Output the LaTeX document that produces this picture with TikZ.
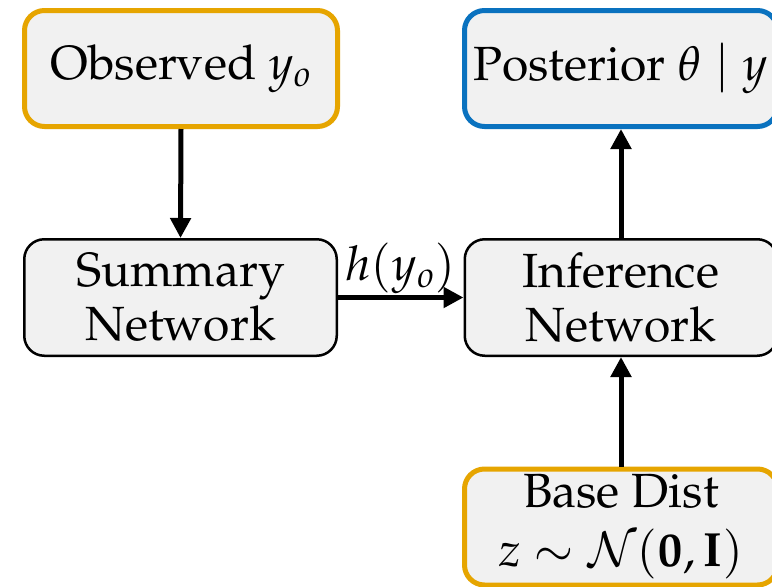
\documentclass[tikz,border=0pt]{standalone}
\usepackage[T1]{fontenc}
\usepackage{mathpazo}
\usetikzlibrary{arrows.meta}
\definecolor{boxorange}{HTML}{E6A500}
\definecolor{boxblue}{HTML}{0A72BF}
\definecolor{boxfill}{HTML}{F1F1F1}
\tikzset{
  bx/.style={rectangle, rounded corners=20pt, fill=boxfill, align=center,
    minimum width=313pt, minimum height=116pt, inner sep=0pt,
    font=\fontsize{48}{54}\selectfont},
  obox/.style={bx, draw=boxorange, line width=5pt},
  bbox/.style={bx, draw=boxblue, line width=5pt},
  kbox/.style={bx, draw=black, line width=2.5pt, minimum width=312.5pt, minimum height=116.5pt},
  arr/.style={line width=5pt, -{Triangle[length=20pt,width=20pt]}}
}
\begin{document}
\begin{tikzpicture}[x=1pt,y=-1pt]
\useasboundingbox (0,0) rectangle (772,587);
\fill[white] (0,0) rectangle (772,587);
\clip (0,0) rectangle (772,587);
\node[obox] (obs) at (181,68.5) {Observed $y_o$};
\node[bbox] (post) at (621,68.5) {Posterior $\theta \mid y$};
\node[kbox] (sum) at (180.5,297.5) {Summary\\Network};
\node[kbox] (inf) at (621,297.5) {Inference\\Network};
\node[obox] (base) at (621,527) {Base Dist\\[5pt]$z \sim \mathcal{N}(\mathbf{0},\mathbf{I})$};
\draw[arr] (obs.south) -- (sum.north);
\draw[arr] (sum.east) -- node[above, inner sep=1pt, font=\fontsize{48}{54}\selectfont] (lab) {$h(y_o)$} (inf.west);
\draw[arr] (inf.north) -- (post.south);
\draw[arr] (base.north) -- (inf.south);
\end{tikzpicture}
\end{document}
